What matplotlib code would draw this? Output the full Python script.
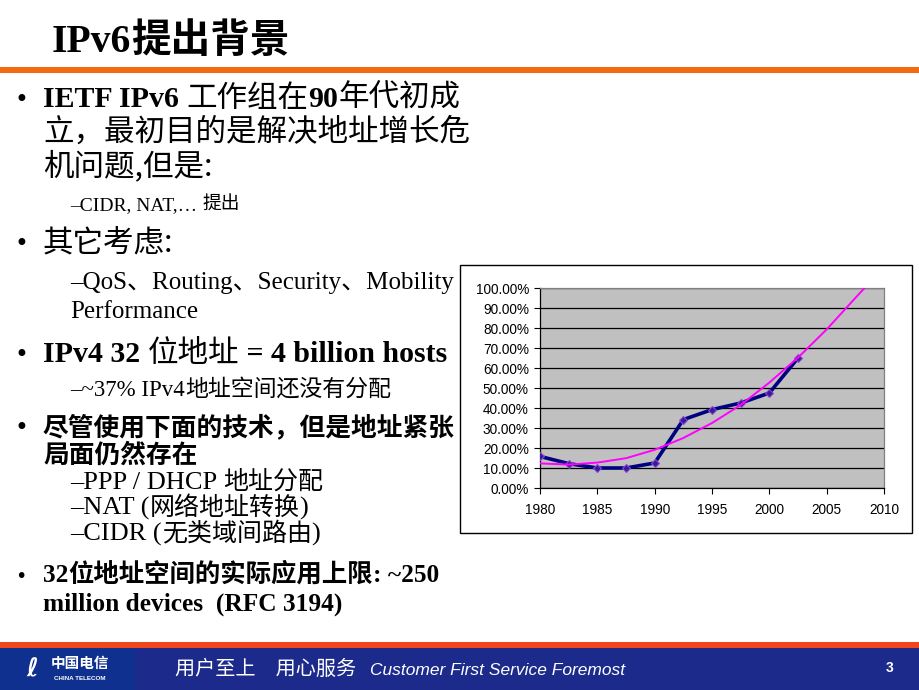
import matplotlib
matplotlib.use("Agg")
import matplotlib.pyplot as plt
from matplotlib.patches import Rectangle
from matplotlib.ticker import PercentFormatter, MultipleLocator

# ---------------- data ----------------
years = [1980, 1982.5, 1985, 1987.5, 1990, 1992.5, 1995, 1997.5, 2000, 2002.5]
usage = [0.158, 0.122, 0.100, 0.100, 0.125, 0.342, 0.392, 0.425, 0.475, 0.650]
trend_years = [1980, 1982.5, 1985, 1987.5, 1990, 1992.5, 1995, 1997.5, 2000, 2002.5, 2005, 2007.5, 2008.3]
trend_vals = [0.123, 0.117, 0.127, 0.149, 0.191, 0.250, 0.325, 0.415, 0.527, 0.652, 0.793, 0.950, 1.000]
x_ticks = [1980, 1985, 1990, 1995, 2000, 2005, 2010]

title = "IPv6提出背景"
slogan_cn = "用户至上　用心服务"
slogan_en = "Customer First Service Foremost"
page_no = "3"

W, H = 920, 690
fig = plt.figure(figsize=(W / 100, H / 100), dpi=100)
fig.patch.set_facecolor("white")
R = fig.canvas.get_renderer()

SERIF = ["Liberation Serif", "Noto Sans CJK SC", "DejaVu Sans"]
CJK = ["Noto Sans CJK SC", "Liberation Serif", "DejaVu Sans"]


def fx(x):
    return x / W


def fy(y):
    return 1 - y / H


def rect(x0, y0, x1, y1, z=0, **kw):
    fig.add_artist(Rectangle((fx(x0), fy(y1)), (x1 - x0) / W, (y1 - y0) / H,
                             transform=fig.transFigure, zorder=z, **kw))


def runs(x, y, parts, color="black"):
    """draw text pieces one after another on a common baseline (pixel coords)"""
    for s, kw in parts:
        t = fig.text(fx(x), fy(y), s, va="baseline", ha="left", color=color, **kw)
        bb = t.get_window_extent(renderer=R)
        x += bb.width
    return x


def bullet(y, size=17):
    fig.text(fx(15), fy(y), "•", va="baseline", ha="left", fontsize=size,
             family=["DejaVu Sans"], color="black")


# ---------------- header ----------------
runs(52, 52, [("IPv6", dict(family=["Liberation Sans Narrow", "Liberation Serif"], fontsize=28.5, fontweight="bold")),
              ("提出背景", dict(family=["Noto Sans CJK SC"], fontsize=28.5, fontweight="bold"))])
rect(0, 67, W, 73, facecolor="#F36A10", edgecolor="none")

# ---------------- body text ----------------
B = dict(family=SERIF, fontweight="bold", fontsize=21.5)
C = dict(family=CJK, fontsize=22)
bullet(107)
runs(43, 107, [("IETF IPv6 ", B), ("工作组在", C), ("90", B), ("年代初成", C)])
runs(43, 141, [("立，最初目的是解决地址增长危", C)])
runs(43, 175, [("机问题,但是:", C)])
runs(70, 210, [("–CIDR, NAT,… ", dict(family=SERIF, fontsize=14)),
               ("提出", dict(family=CJK, fontsize=13.5))])

bullet(251)
runs(43, 251, [("其它考虑:", C)])
S16 = dict(family=SERIF, fontsize=18)
runs(70, 289, [("–QoS、Routing、Security、Mobility", S16)])
runs(70, 318, [("Performance", S16)])

bullet(362)
runs(43, 362, [("IPv4 32 ", B), ("位地址", C), (" = 4 billion hosts", B)])
runs(70, 396, [("–~37% IPv4", dict(family=SERIF, fontsize=16.5)),
               ("地址空间还没有分配", dict(family=CJK, fontsize=16.5))])

bullet(435)
CB = dict(family=CJK, fontsize=18.5, fontweight="bold")
runs(43, 435, [("尽管使用下面的技术，但是地址紧张", CB)])
runs(43, 463, [("局面仍然存在", CB)])
S15 = dict(family=SERIF, fontsize=19)
C15 = dict(family=CJK, fontsize=18)
runs(70, 489, [("–PPP / DHCP ", S15), ("地址分配", C15)])
runs(70, 515, [("–NAT (", S15), ("网络地址转换", C15), (")", S15)])
runs(70, 541, [("–CIDR (", S15), ("无类域间路由", C15), (")", S15)])

bullet(582, size=14)
BB = dict(family=SERIF, fontsize=18.3, fontweight="bold")
CBB = dict(family=CJK, fontsize=18.3, fontweight="bold")
runs(43, 582, [("32", BB), ("位地址空间的实际应用上限", CBB), (": ~250", BB)])
runs(43, 611, [("million devices  (RFC 3194)", BB)])

# ---------------- chart ----------------
rect(460, 265, 912, 533, z=-1, facecolor="white", edgecolor="black", linewidth=1)

ax = fig.add_axes([fx(540), fy(488), 344 / W, 200 / H])
ax.set_zorder(2)
ax.set_facecolor("#C0C0C0")
ax.plot(years, usage, color="#000080", linewidth=2.6, marker="D", markersize=4.5,
        markerfacecolor="#3a1a9a", markeredgecolor="#8a4ad0", markeredgewidth=0.8, zorder=3)
ax.plot(trend_years, trend_vals, color="#FF00FF", linewidth=1.4, zorder=4)
ax.set_xlim(1980, 2010)
ax.set_ylim(0, 1.0)
ax.set_xticks(x_ticks)
ax.yaxis.set_major_locator(MultipleLocator(0.1))
ax.yaxis.set_major_formatter(PercentFormatter(xmax=1, decimals=2))
ax.grid(axis="y", color="black", linewidth=0.9)
ax.set_axisbelow(True)
for s in ("top", "right"):
    ax.spines[s].set_color("#808080")
    ax.spines[s].set_linewidth(0.9)
for s in ("left", "bottom"):
    ax.spines[s].set_color("black")
    ax.spines[s].set_linewidth(0.9)
ax.tick_params(direction="out", length=4, width=0.8, colors="black",
               labelsize=9.8, pad=4)
for lab in ax.get_xticklabels() + ax.get_yticklabels():
    lab.set_family(["Liberation Sans", "DejaVu Sans"])
ax.tick_params(axis="x", pad=7)

# ---------------- footer ----------------
rect(0, 642, W, 648, facecolor="#F0461A", edgecolor="none")
rect(0, 648, W, H, facecolor="#1C2A8C", edgecolor="none")
rect(0, 648, 135, H, facecolor="#10308F", edgecolor="none")
fig.text(fx(32), fy(669), "ℓ", color="white", fontsize=18, fontweight="bold",
         family=["DejaVu Sans"], ha="center", va="center")
fig.text(fx(80), fy(663), "中国电信", color="white", fontsize=10.5, fontweight="bold",
         family=["Noto Sans CJK SC"], ha="center", va="center")
fig.text(fx(80), fy(679), "CHINA TELECOM", color="white", fontsize=4.5, fontweight="bold",
         family=["Liberation Sans", "DejaVu Sans"], ha="center", va="center")
runs(175, 675, [(slogan_cn, dict(family=["Noto Sans CJK SC"], fontsize=14.5))], color="white")
fig.text(fx(370), fy(675), slogan_en, color="white", va="baseline", ha="left",
         family=["Liberation Sans", "DejaVu Sans"], fontsize=12.5, style="italic")
fig.text(fx(890), fy(668), page_no, color="white", fontsize=10, fontweight="bold",
         family=["Liberation Sans", "DejaVu Sans"], ha="center", va="center")

fig.savefig("out.png", dpi=100, facecolor="white")
